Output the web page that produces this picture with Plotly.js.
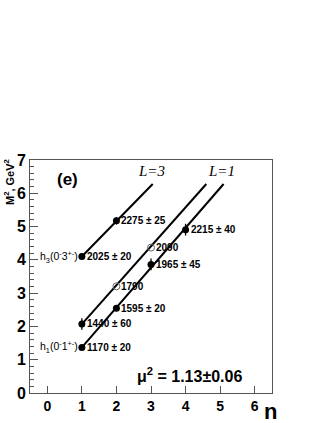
<!DOCTYPE html>
<html><head><meta charset="utf-8">
<script src="https://cdn.plot.ly/plotly-3.0.1.min.js"></script>
<style>html,body{margin:0;padding:0;background:#fff}#c{width:327px;height:423px}</style>
</head><body><div id="c"></div>
<script>
// h1 trajectory (L=1, lower line)
const nH1 = [1, 2, 3, 4];
const massH1 = [1170, 1595, 1965, 2215];
const errH1 = [20, 20, 45, 40];
const labelH1 = ['1170 ± 20', '1595 ± 20', '1965 ± 45', '2215 ± 40'];
// second L=1 line (daughter)
const nD = [1, 2, 3];
const massD = [1440, 1790, 2090];
const errD = [60, 0, 0];
const openD = [false, true, true];
const labelD = ['1440 ± 60', '1790', '2090'];
// h3 trajectory (L=3)
const nH3 = [1, 2];
const massH3 = [2025, 2275];
const errH3 = [20, 25];
const labelH3 = ['2025 ± 20', '2275 ± 25'];
// trajectory lines (endpoints)
const lineL1aN = [1, 5.1], lineL1aM2 = [1.37, 6.28];
const lineL1bN = [1, 4.6], lineL1bM2 = [2.07, 6.28];
const lineL3N = [1, 3.05], lineL3M2 = [4.10, 6.28];

const m2 = m => (m / 1000) ** 2;
const dm2 = (m, e) => 2 * m * e / 1e6;

const traces = [];
[[lineL1aN, lineL1aM2], [lineL1bN, lineL1bM2], [lineL3N, lineL3M2]].forEach(([x, y]) => {
  traces.push({x, y, mode: 'lines', line: {color: '#000', width: 2}, hoverinfo: 'skip'});
});
function pts(n, mass, err, open) {
  const idxF = n.map((_, i) => i).filter(i => !(open && open[i]));
  const idxO = n.map((_, i) => i).filter(i => open && open[i]);
  if (idxF.length) traces.push({
    x: idxF.map(i => n[i]), y: idxF.map(i => m2(mass[i])), mode: 'markers',
    marker: {color: '#000', size: 7, symbol: 'circle'},
    error_y: {type: 'data', array: idxF.map(i => dm2(mass[i], err[i])), color: '#000', thickness: 1.3, width: 0}
  });
  if (idxO.length) traces.push({
    x: idxO.map(i => n[i]), y: idxO.map(i => m2(mass[i])), mode: 'markers',
    marker: {color: '#666', size: 7, symbol: 'circle-open', line: {color: '#666', width: 1}}
  });
}
pts(nH1, massH1, errH1);
pts(nD, massD, errD, openD);
pts(nH3, massH3, errH3);

const F = 'Liberation Sans, Arial, sans-serif';
const ann = [];
function labels(n, mass, lab) {
  n.forEach((v, i) => ann.push({x: v, y: m2(mass[i]), text: lab[i], xref: 'x', yref: 'y',
    xanchor: 'left', yanchor: 'middle', xshift: 3, showarrow: false, align: 'left',
    font: {family: F, size: 10, color: '#000', weight: 'bold'}}));
}
labels(nH1, massH1, labelH1);
labels(nD, massD, labelD);
labels(nH3, massH3, labelH3);
ann.push({x: nH1[0], y: m2(massH1[0]), text: 'h<sub>1</sub>(0<sup>-</sup>1<sup>+-</sup>)', xref: 'x', yref: 'y', align: 'right',
  xanchor: 'right', yanchor: 'middle', xshift: -2, showarrow: false, font: {family: F, size: 10.5, color: '#000'}});
ann.push({x: nH3[0], y: m2(massH3[0]), text: 'h<sub>3</sub>(0<sup>-</sup>3<sup>+-</sup>)', xref: 'x', yref: 'y', align: 'right',
  xanchor: 'right', yanchor: 'middle', xshift: -2, showarrow: false, font: {family: F, size: 10.5, color: '#000'}});
ann.push({x: 3.02, y: 6.68, text: 'L=3', xref: 'x', yref: 'y', showarrow: false, xanchor: 'center',
  font: {family: 'Liberation Serif, Times New Roman, serif', size: 15, style: 'italic', color: '#000'}});
ann.push({x: 5.05, y: 6.68, text: 'L=1', xref: 'x', yref: 'y', showarrow: false, xanchor: 'center',
  font: {family: 'Liberation Serif, Times New Roman, serif', size: 15, style: 'italic', color: '#000'}});
ann.push({x: 0.22, y: 6.4, text: '(e)', xref: 'x', yref: 'y', showarrow: false, xanchor: 'left',
  font: {family: F, size: 17, color: '#000', weight: 'bold'}});
ann.push({x: 2.55, y: 0.55, text: 'μ<sup>2</sup> = 1.13±0.06', xref: 'x', yref: 'y', showarrow: false, xanchor: 'left', align: 'left',
  font: {family: F, size: 16, color: '#000', weight: 'bold'}});
ann.push({x: 1.0, y: -0.03, text: 'n', xref: 'paper', yref: 'paper', xanchor: 'left', yanchor: 'top',
  xshift: -10, yshift: 3, showarrow: false, font: {family: F, size: 22, color: '#000', weight: 'bold'}});
ann.push({x: 0, y: 1, text: 'M<sup>2</sup>, GeV<sup>2</sup>', xref: 'paper', yref: 'paper', textangle: -90,
  xanchor: 'right', yanchor: 'top', xshift: -12, yshift: 3, showarrow: false,
  font: {family: F, size: 11, color: '#000', weight: 'bold'}});

const layout = {
  width: 327, height: 423, margin: {l: 30, r: 55, t: 160, b: 30},
  paper_bgcolor: '#fff', plot_bgcolor: '#fff', showlegend: false,
  xaxis: {range: [-0.5, 6.5], tickvals: [0, 1, 2, 3, 4, 5, 6], ticks: 'inside', ticklen: 7, tickwidth: 1, tickcolor: '#555',
    showgrid: false, zeroline: false, showline: true, mirror: true, linecolor: '#555', linewidth: 1,
    tickfont: {family: F, size: 14, color: '#000', weight: 'bold'}, ticklabelstandoff: 0},
  yaxis: {range: [0, 7], tickvals: [0, 1, 2, 3, 4, 5, 6, 7], ticks: 'inside', ticklen: 8, tickwidth: 1, tickcolor: '#555',
    minor: {dtick: 0.2, ticks: 'inside', ticklen: 4, tickcolor: '#555'},
    showgrid: false, zeroline: false, showline: true, mirror: true, linecolor: '#555', linewidth: 1,
    tickfont: {family: F, size: 16, color: '#000', weight: 'bold'}},
  annotations: ann
};
Plotly.newPlot('c', traces, layout, {displayModeBar: false, staticPlot: true});
</script></body></html>
